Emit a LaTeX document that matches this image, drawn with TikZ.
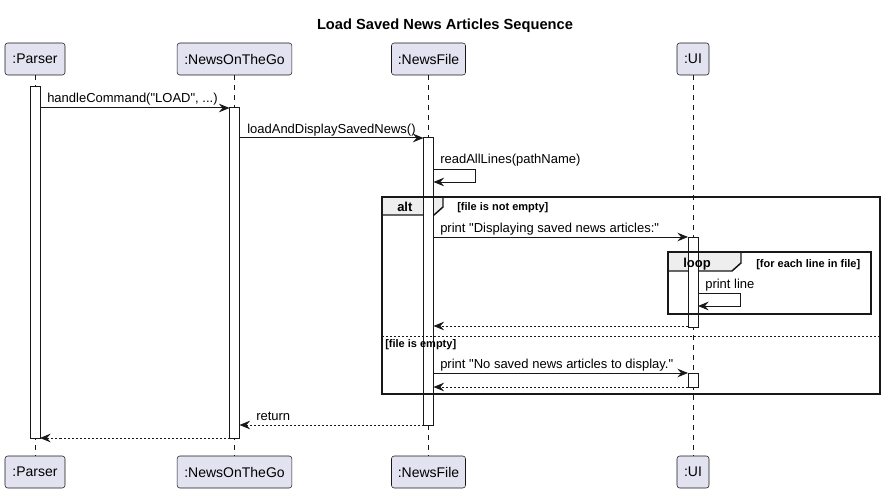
\documentclass[tikz,border=0pt]{standalone}
\usepackage{fontspec}
\setmainfont{Liberation Sans}[Ligatures=TeXOff]
\usepackage{xcolor}
\usepackage{tikz}
\usetikzlibrary{arrows.meta}

\definecolor{partfill}{RGB}{226,226,240}
\definecolor{ink}{RGB}{24,24,24}
\definecolor{tabfill}{RGB}{238,238,238}

\tikzset{
  actor/.style={draw=ink, fill=partfill, rounded corners=2pt, inner sep=0pt, minimum height=24pt, font=\fontsize{10.5}{12}\selectfont},
  lifeline/.style={draw=ink, line width=0.4pt, dash pattern=on 3.75pt off 3.75pt},
  bar/.style={draw=ink, fill=white, line width=0.75pt},
  call/.style={draw=ink, line width=0.75pt, -{Stealth[length=8pt,width=6.5pt,inset=2.8pt]}},
  reply/.style={call, dash pattern=on 1.5pt off 1.5pt},
  msg/.style={anchor=base west, inner sep=0pt, font=\fontsize{9.75}{11}\selectfont},
  guard/.style={anchor=base west, inner sep=0pt, font=\bfseries\fontsize{8.25}{10}\selectfont},
  opname/.style={anchor=base west, inner sep=0pt, font=\bfseries\fontsize{9.75}{11}\selectfont},
  frame/.style={draw=ink, line width=1.1pt},
  tab/.style={draw=ink, fill=tabfill, line width=1.1pt},
}

\begin{document}
\begin{tikzpicture}[x=0.75pt,y=0.75pt,yscale=-1,xscale=1]
   \useasboundingbox (0,0) rectangle (886,492);

   % Title
   \node (title) at (445,30) [anchor=base, inner sep=0pt, font=\bfseries\fontsize{11}{13}\selectfont] {Load Saved News Articles Sequence};

   % Participants
   \node (parserTop) at (35,59) [actor, minimum width=45pt] {:Parser};
   \node (parserBot) at (35,472) [actor, minimum width=45pt] {:Parser};
   \node (goTop) at (234.5,59) [actor, minimum width=86pt] {:NewsOnTheGo};
   \node (goBot) at (234.5,472) [actor, minimum width=86pt] {:NewsOnTheGo};
   \node (fileTop) at (428.5,59) [actor, minimum width=55.5pt] {:NewsFile};
   \node (fileBot) at (428.5,472) [actor, minimum width=55.5pt] {:NewsFile};
   \node (uiTop) at (693,59) [actor, minimum width=24pt] {:UI};
   \node (uiBot) at (693,472) [actor, minimum width=24pt] {:UI};

   % Lifelines
   \draw [lifeline] (parserTop) -- (parserBot);
   \draw [lifeline] (goTop) -- (goBot);
   \draw [lifeline] (fileTop) -- (fileBot);
   \draw [lifeline] (uiTop) -- (uiBot);

   % Frame tabs
   \draw [tab] (382,197) -- (443,197) -- (443,207) -- (434,215) -- (382,215) -- cycle;
   \draw [tab] (668,252) -- (741,252) -- (741,263) -- (732,271) -- (668,271) -- cycle;

   % Activation bars
   \draw [bar] (30,87) rectangle (40,438);
   \draw [bar] (229.5,108) rectangle (239.5,438);
   \draw [bar] (423.5,138) rectangle (433.5,425);
   \draw [bar] (688,237) rectangle (698,327);
   \draw [bar] (688,373) rectangle (698,387);

   % Frames and guards
   \draw [frame] (382,197) rectangle (880,394);
   \draw [draw=ink, line width=0.75pt, dash pattern=on 1.5pt off 1.5pt] (382,336) -- (880,336);
   \node (altName) at (397,211) [opname] {alt};
   \node (altIf) at (457,210) [guard] {[file is not empty]};
   \node (altElse) at (385,347) [guard] {[file is empty]};
   \draw [frame] (668,252) rectangle (871,314);
   \node (loopName) at (683,267) [opname] {loop};
   \node (loopIf) at (756,267) [guard] {[for each line in file]};

   % Message end points
   \coordinate (m1a) at (40,108);      \coordinate (m1b) at (229.5,108);
   \coordinate (m2a) at (239.5,138);   \coordinate (m2b) at (423.5,138);
   \coordinate (m3a) at (433.5,169);   \coordinate (m3b) at (433.5,182);
   \coordinate (m4a) at (433.5,237);   \coordinate (m4b) at (688,237);
   \coordinate (m5a) at (698,293);     \coordinate (m5b) at (698,306);
   \coordinate (m6a) at (688,326);     \coordinate (m6b) at (433.5,326);
   \coordinate (m7a) at (433.5,373);   \coordinate (m7b) at (688,373);
   \coordinate (m8a) at (688,387);     \coordinate (m8b) at (433.5,387);
   \coordinate (m9a) at (423.5,425);   \coordinate (m9b) at (239.5,425);
   \coordinate (m10a) at (229.5,438);  \coordinate (m10b) at (40,438);

   % Messages
   \draw [call] (m1a) -- (m1b);
   \node (l1) at (47,103) [msg] {handleCommand("LOAD", ...)};
   \draw [call] (m2a) -- (m2b);
   \node (l2) at (247,133) [msg] {loadAndDisplaySavedNews()};
   \draw [call] (m3a) -- ++(42,0) |- (m3b);
   \node (l3) at (440,163) [msg] {readAllLines(pathName)};
   \draw [call] (m4a) -- (m4b);
   \node (l4) at (440,232) [msg] {print "Displaying saved news articles:"};
   \draw [call] (m5a) -- ++(42,0) |- (m5b);
   \node (l5) at (705,288) [msg] {print line};
   \draw [reply] (m6a) -- (m6b);
   \draw [call] (m7a) -- (m7b);
   \node (l7) at (440,368) [msg] {print "No saved news articles to display."};
   \draw [reply] (m8a) -- (m8b);
   \draw [reply] (m9a) -- (m9b);
   \node (l9) at (256,420) [msg] {return};
   \draw [reply] (m10a) -- (m10b);

\end{tikzpicture}
\end{document}
